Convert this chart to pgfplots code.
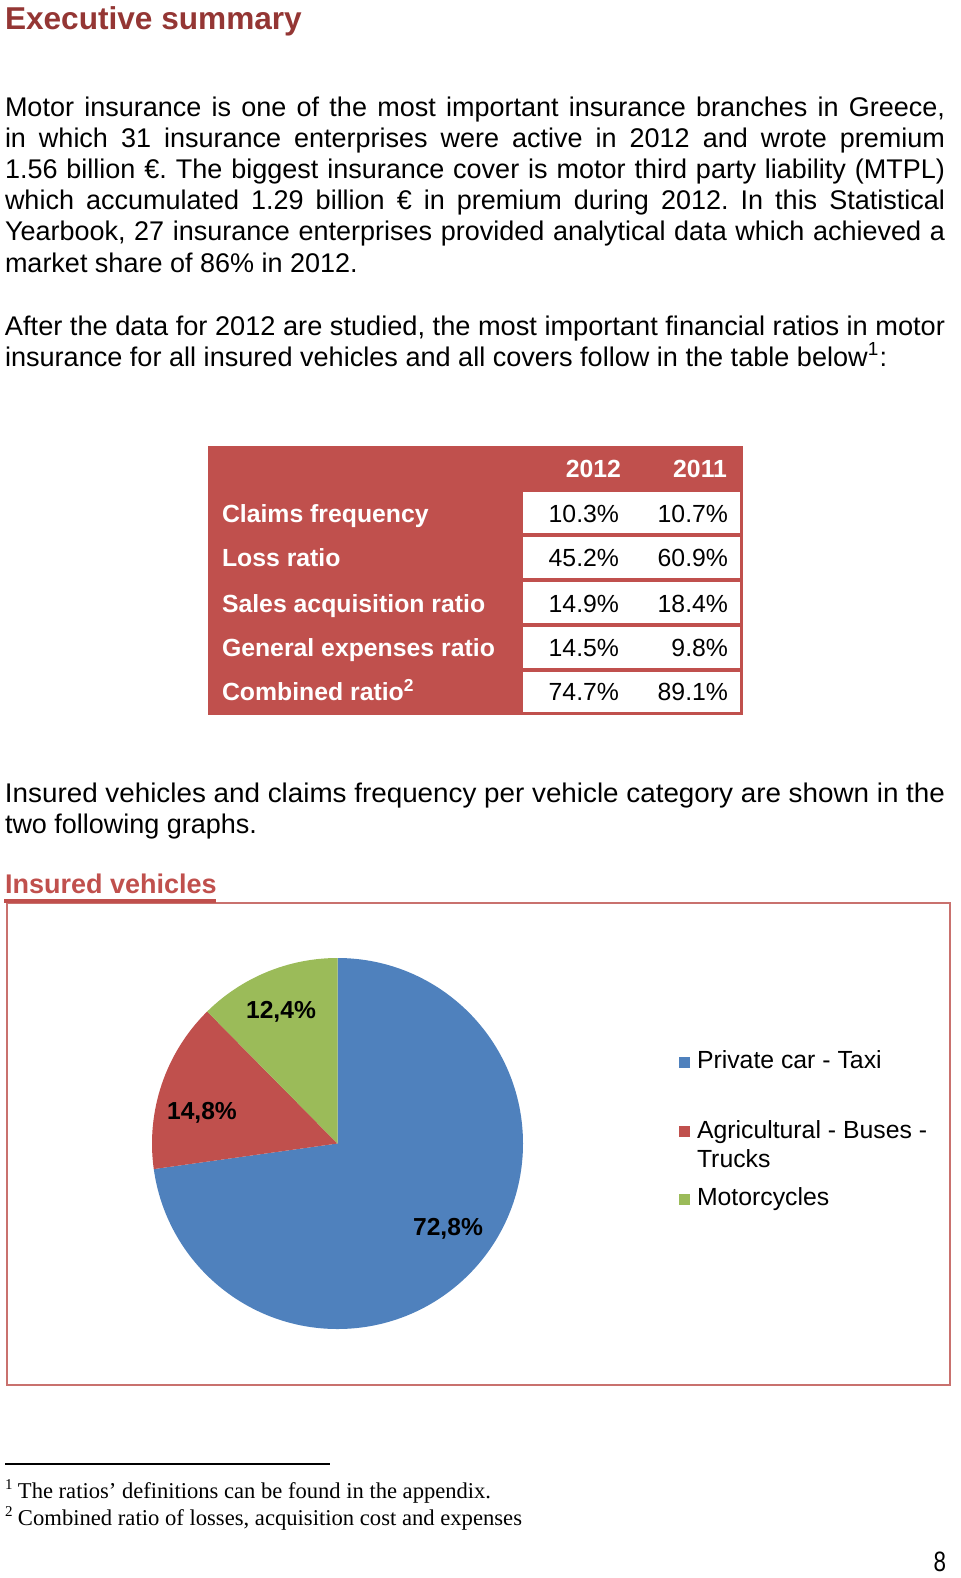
\documentclass[border=0pt]{standalone}
\usepackage{fontspec}
\setmainfont{Liberation Sans}
\newfontfamily\timesfont{Liberation Serif}
\usepackage{graphicx}
\usepackage{pgfplots}
\usepackage{pgfplotstable}
\pgfplotsset{compat=1.18}
\definecolor{TitleRed}{HTML}{943634}
\definecolor{TabRed}{HTML}{C0504D}
\definecolor{BoxRed}{HTML}{C9716E}
\definecolor{PieBlue}{HTML}{4F81BD}
\definecolor{PieRed}{HTML}{C0504D}
\definecolor{PieGreen}{HTML}{9BBB59}

% insured vehicles, share in %
\pgfplotstableread{
share
72.8
14.8
12.4
}\piedata

\newcommand\bodyfont{\fontsize{13.5}{15.5}\selectfont}
\newcommand\tabfont{\fontsize{12.4}{14}\selectfont}
\frenchspacing

\begin{document}
\begin{tikzpicture}
% pie angles from the table
\pgfplotstablegetelem{0}{share}\of\piedata \let\sA\pgfplotsretval
\pgfplotstablegetelem{1}{share}\of\piedata \let\sB\pgfplotsretval
\pgfplotstablegetelem{2}{share}\of\piedata \let\sC\pgfplotsretval
\pgfmathsetmacro\aA{90-3.6*\sA}
\pgfmathsetmacro\aB{\aA-3.6*\sB}
\pgfmathsetmacro\aC{\aB-3.6*\sC}

\begin{axis}[
  at={(168.75pt,-571.75pt)},anchor=center,
  width=185.5pt,height=185.5pt,scale only axis,
  hide axis,
  xmin=-1,xmax=1,ymin=-1,ymax=1,
  clip=false
]
\fill[PieBlue]  (axis cs:0,0) -- (axis cs:0,1) arc[start angle=90,end angle=\aA,radius=92.75pt] -- cycle;
\fill[PieRed]   (axis cs:0,0) -- ++(\aA:92.75pt) arc[start angle=\aA,end angle=\aB,radius=92.75pt] -- cycle;
\fill[PieGreen] (axis cs:0,0) -- ++(\aB:92.75pt) arc[start angle=\aB,end angle=\aC,radius=92.75pt] -- cycle;
\end{axis}

\begin{scope}[x=0.5pt,y=-0.5pt,every node/.style={inner sep=0pt,outer sep=0pt}]
\useasboundingbox (0,0) rectangle (960,1578);

% heading
\node[anchor=base west,text=TitleRed] at (5,30) {\fontsize{15.8}{18}\selectfont\bfseries Executive summary};

% first paragraph, justified lines
\node[anchor=base west] at (5,117) {\bodyfont\makebox[470pt][s]{Motor insurance is one of the most important insurance branches in Greece,}};
\node[anchor=base west] at (5,148) {\bodyfont\makebox[470pt][s]{in which 31 insurance enterprises were active in 2012 and wrote premium}};
\node[anchor=base west] at (5,179) {\bodyfont\makebox[470pt][s]{1.56 billion €. The biggest insurance cover is motor third party liability (MTPL)}};
\node[anchor=base west] at (5,210) {\bodyfont\makebox[470pt][s]{which accumulated 1.29 billion € in premium during 2012. In this Statistical}};
\node[anchor=base west] at (5,241) {\bodyfont\makebox[470pt][s]{Yearbook, 27 insurance enterprises provided analytical data which achieved a}};
\node[anchor=base west] at (5,272) {\bodyfont market share of 86\% in 2012.};

% second paragraph
\node[anchor=base west] at (5,335) {\bodyfont\resizebox{470pt}{\height}{After the data for 2012 are studied, the most important financial ratios in motor}};
\node[anchor=base west] at (5,366) {\bodyfont\resizebox{441pt}{\height}{insurance for all insured vehicles and all covers follow in the table below\textsuperscript{1}:}};

% ratios table
\fill[TabRed] (208,446) rectangle (743,715);
\foreach \ya/\yb in {492/533,537/578,582/623,627/668,672/712}
  \fill[white] (523,\ya) rectangle (740,\yb);
\node[anchor=base east,text=white] at (621,477) {\tabfont\bfseries 2012};
\node[anchor=base east,text=white] at (727,477) {\tabfont\bfseries 2011};
\foreach \y/\lab/\va/\vb in {522/Claims frequency/10.3/10.7,
                             566/Loss ratio/45.2/60.9,
                             612/Sales acquisition ratio/14.9/18.4,
                             656/General expenses ratio/14.5/9.8,
                             700/Combined ratio\textsuperscript{2}/74.7/89.1}{
  \node[anchor=base west,text=white] at (222,\y) {\tabfont\bfseries \lab};
  \node[anchor=base east] at (619,\y) {\tabfont \va\%};
  \node[anchor=base east] at (728,\y) {\tabfont \vb\%};
}

% third paragraph
\node[anchor=base west] at (5,802) {\bodyfont\resizebox{470pt}{\height}{Insured vehicles and claims frequency per vehicle category are shown in the}};
\node[anchor=base west] at (5,833) {\bodyfont\resizebox{126pt}{\height}{two following graphs.}};

% chart heading and frame
\node[anchor=base west,text=TabRed] at (5,893) {\fontsize{13.5}{15}\selectfont\bfseries Insured vehicles};
\draw[BoxRed,line width=0.8pt] (7,903) rectangle (950,1385);
\draw[TabRed,line width=1.6pt] (4,901) -- (216,901);

% pie labels
\node[anchor=base] at (281,1018) {\fontsize{12.3}{14}\selectfont\bfseries 12,4\%};
\node[anchor=base] at (202,1119) {\fontsize{12.3}{14}\selectfont\bfseries 14,8\%};
\node[anchor=base] at (448,1235) {\fontsize{12.3}{14}\selectfont\bfseries 72,8\%};

% legend
\fill[PieBlue]  (679,1057) rectangle (690,1068);
\node[anchor=base west] at (697,1068) {\tabfont Private car - Taxi};
\fill[PieRed]   (679,1126) rectangle (690,1137);
\node[anchor=base west] at (697,1138) {\tabfont Agricultural - Buses -};
\node[anchor=base west] at (697,1167) {\tabfont Trucks};
\fill[PieGreen] (679,1194) rectangle (690,1205);
\node[anchor=base west] at (697,1205) {\tabfont Motorcycles};

% footnotes
\draw[line width=0.7pt] (5,1464) -- (330,1464);
\node[anchor=base west] at (5,1498) {\timesfont\fontsize{7.5}{9}\selectfont\raisebox{4.5pt}{1}};
\node[anchor=base west] at (18,1498) {\timesfont\fontsize{11.3}{13}\selectfont\resizebox{236.5pt}{\height}{The ratios’ definitions can be found in the appendix.}};
\node[anchor=base west] at (5,1525) {\timesfont\fontsize{7.5}{9}\selectfont\raisebox{4.5pt}{2}};
\node[anchor=base west] at (18,1525) {\timesfont\fontsize{11.3}{13}\selectfont\resizebox{252pt}{\height}{Combined ratio of losses, acquisition cost and expenses}};

% page number
\node[anchor=base east] at (946,1571) {\fontsize{14}{16}\selectfont\scalebox{0.8}[1]{8}};
\end{scope}
\end{tikzpicture}
\end{document}
